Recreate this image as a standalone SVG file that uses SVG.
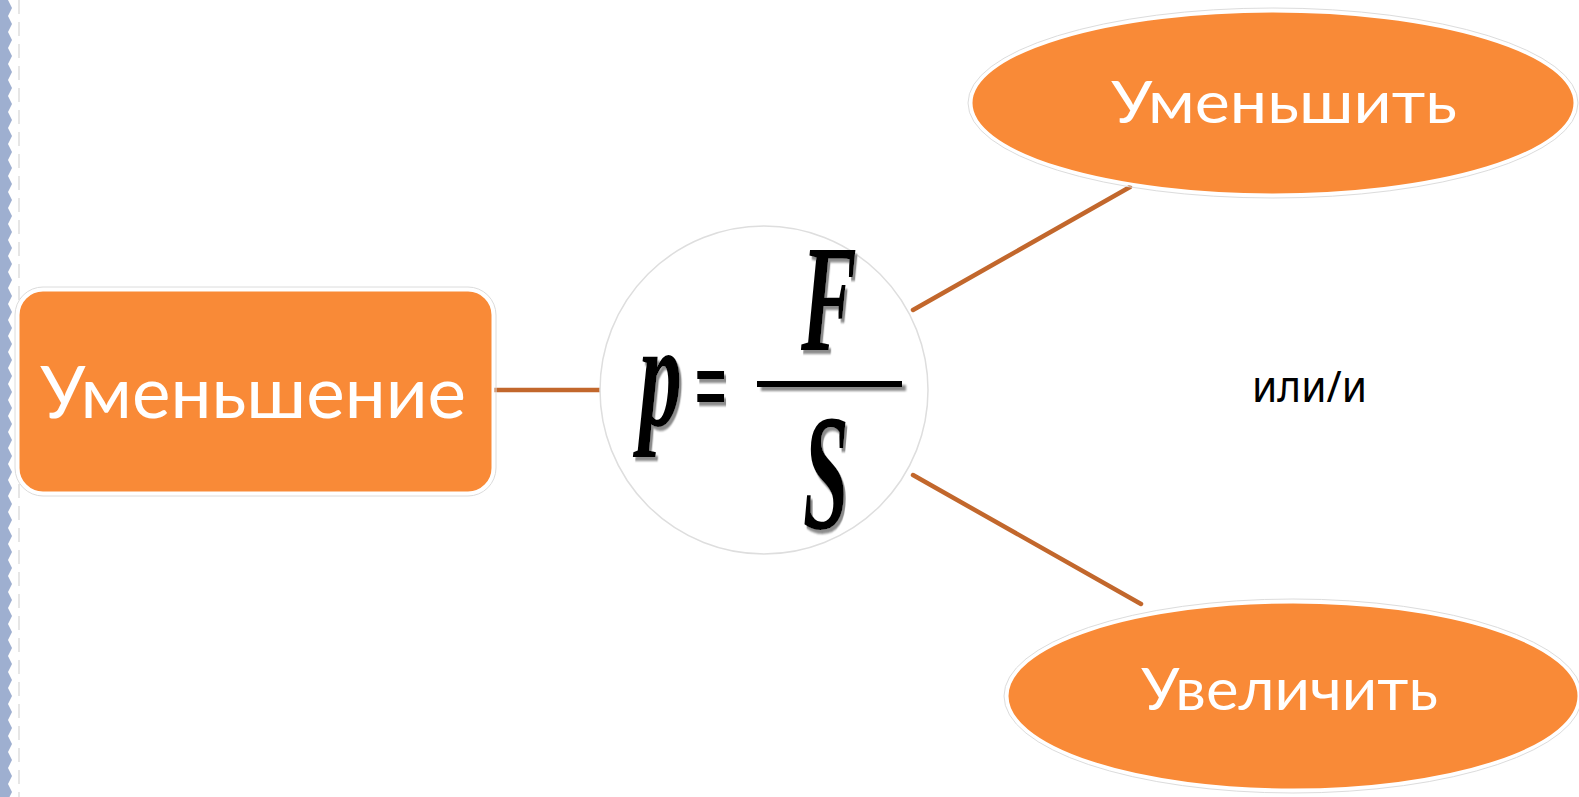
<svg xmlns="http://www.w3.org/2000/svg" width="1579" height="797" viewBox="0 0 1579 797">
<defs>
<style>
.node{fill:#f98a37;stroke:#ffffff;stroke-width:3}
.lbl{font-family:"Lato","Liberation Sans",sans-serif;fill:#ffffff}
.conn{stroke:#c2672c;stroke-width:4.5;stroke-linecap:round;fill:none}
.math{font-family:"Liberation Serif",serif;font-weight:bold;font-style:italic;fill:#000;filter:url(#sh)}
</style>
<filter id="sh" x="-20%" y="-20%" width="140%" height="140%">
<feDropShadow dx="4" dy="4" stdDeviation="1.2" flood-color="#8c8c8c" flood-opacity="1"/>
</filter>
<filter id="shu" filterUnits="userSpaceOnUse" x="740" y="370" width="180" height="30">
<feDropShadow dx="4" dy="4" stdDeviation="1.2" flood-color="#8c8c8c" flood-opacity="1"/>
</filter>
</defs>
<rect width="1579" height="797" fill="#ffffff"/>
<g id="border">
<path d="M0,0 H8 l4,8 l-4,8 l4,8 l-4,8 l4,8 l-4,8 l4,8 l-4,8 l4,8 l-4,8 l4,8 l-4,8 l4,8 l-4,8 l4,8 l-4,8 l4,8 l-4,8 l4,8 l-4,8 l4,8 l-4,8 l4,8 l-4,8 l4,8 l-4,8 l4,8 l-4,8 l4,8 l-4,8 l4,8 l-4,8 l4,8 l-4,8 l4,8 l-4,8 l4,8 l-4,8 l4,8 l-4,8 l4,8 l-4,8 l4,8 l-4,8 l4,8 l-4,8 l4,8 l-4,8 l4,8 l-4,8 l4,8 l-4,8 l4,8 l-4,8 l4,8 l-4,8 l4,8 l-4,8 l4,8 l-4,8 l4,8 l-4,8 l4,8 l-4,8 l4,8 l-4,8 l4,8 l-4,8 l4,8 l-4,8 l4,8 l-4,8 l4,8 l-4,8 l4,8 l-4,8 l4,8 l-4,8 l4,8 l-4,8 l4,8 l-4,8 l4,8 l-4,8 l4,8 l-4,8 l4,8 l-4,8 l4,8 l-4,8 l4,8 l-4,8 l4,8 l-4,8 l4,8 l-4,8 l4,8 l-4,8 l4,8 l-4,8 l4,8 l-4,8 l4,8 l-4,8 l4,8 l-4,8 l4,8 l-4,8 l4,8 l-4,8 l4,8 l-4,8 V797 H0 Z" fill="#9eafd0"/>
<line x1="19" y1="0" x2="19" y2="797" stroke="#e6e6e6" stroke-width="2" stroke-dasharray="14,8"/>
</g>
<g id="connectors">
<line class="conn" x1="493" y1="390" x2="600" y2="390"/>
<line class="conn" x1="913" y1="310" x2="1130" y2="187"/>
<line class="conn" x1="913" y1="475" x2="1141" y2="604"/>
</g>
<g id="node-reduction">
<rect x="15" y="287" width="481" height="209" rx="28" fill="none" stroke="#dcdcdc" stroke-width="1"/>
<rect class="node" x="18" y="290" width="475" height="203" rx="25"/>
<text class="lbl" x="40" y="418" font-size="72" textLength="426" lengthAdjust="spacingAndGlyphs">Уменьшение</text>
</g>
<g id="node-formula">
<circle cx="764" cy="390" r="164" fill="#ffffff" stroke="#dedede" stroke-width="1.5"/>
<text class="math" transform="translate(639,425) scale(0.58,1)" font-size="148">p</text>
<text class="math" transform="translate(694,425) scale(0.5,1)" font-size="115">=</text>
<rect x="757" y="381" width="145" height="6" fill="#000" filter="url(#shu)"/>
<text class="math" transform="translate(801,350) scale(0.55,1)" font-size="152">F</text>
<text class="math" transform="translate(803,528) scale(0.5,1)" font-size="165">S</text>
</g>
<g id="node-decrease">
<ellipse cx="1273" cy="103" rx="305" ry="95" fill="none" stroke="#dcdcdc" stroke-width="1"/>
<ellipse class="node" cx="1273" cy="103" rx="302" ry="92"/>
<text class="lbl" x="1111" y="123" font-size="58" textLength="346" lengthAdjust="spacingAndGlyphs">Уменьшить</text>
</g>
<g id="node-increase">
<ellipse cx="1293" cy="696" rx="289" ry="97" fill="none" stroke="#dcdcdc" stroke-width="1"/>
<ellipse class="node" cx="1293" cy="696" rx="286" ry="94"/>
<text class="lbl" x="1141" y="710" font-size="58" textLength="297" lengthAdjust="spacingAndGlyphs">Увеличить</text>
</g>
<g id="label-or">
<text x="1252" y="402" font-family="Noto Sans, Open Sans, sans-serif" font-size="44" fill="#000" textLength="115" lengthAdjust="spacingAndGlyphs">или/и</text>
</g>
</svg>
